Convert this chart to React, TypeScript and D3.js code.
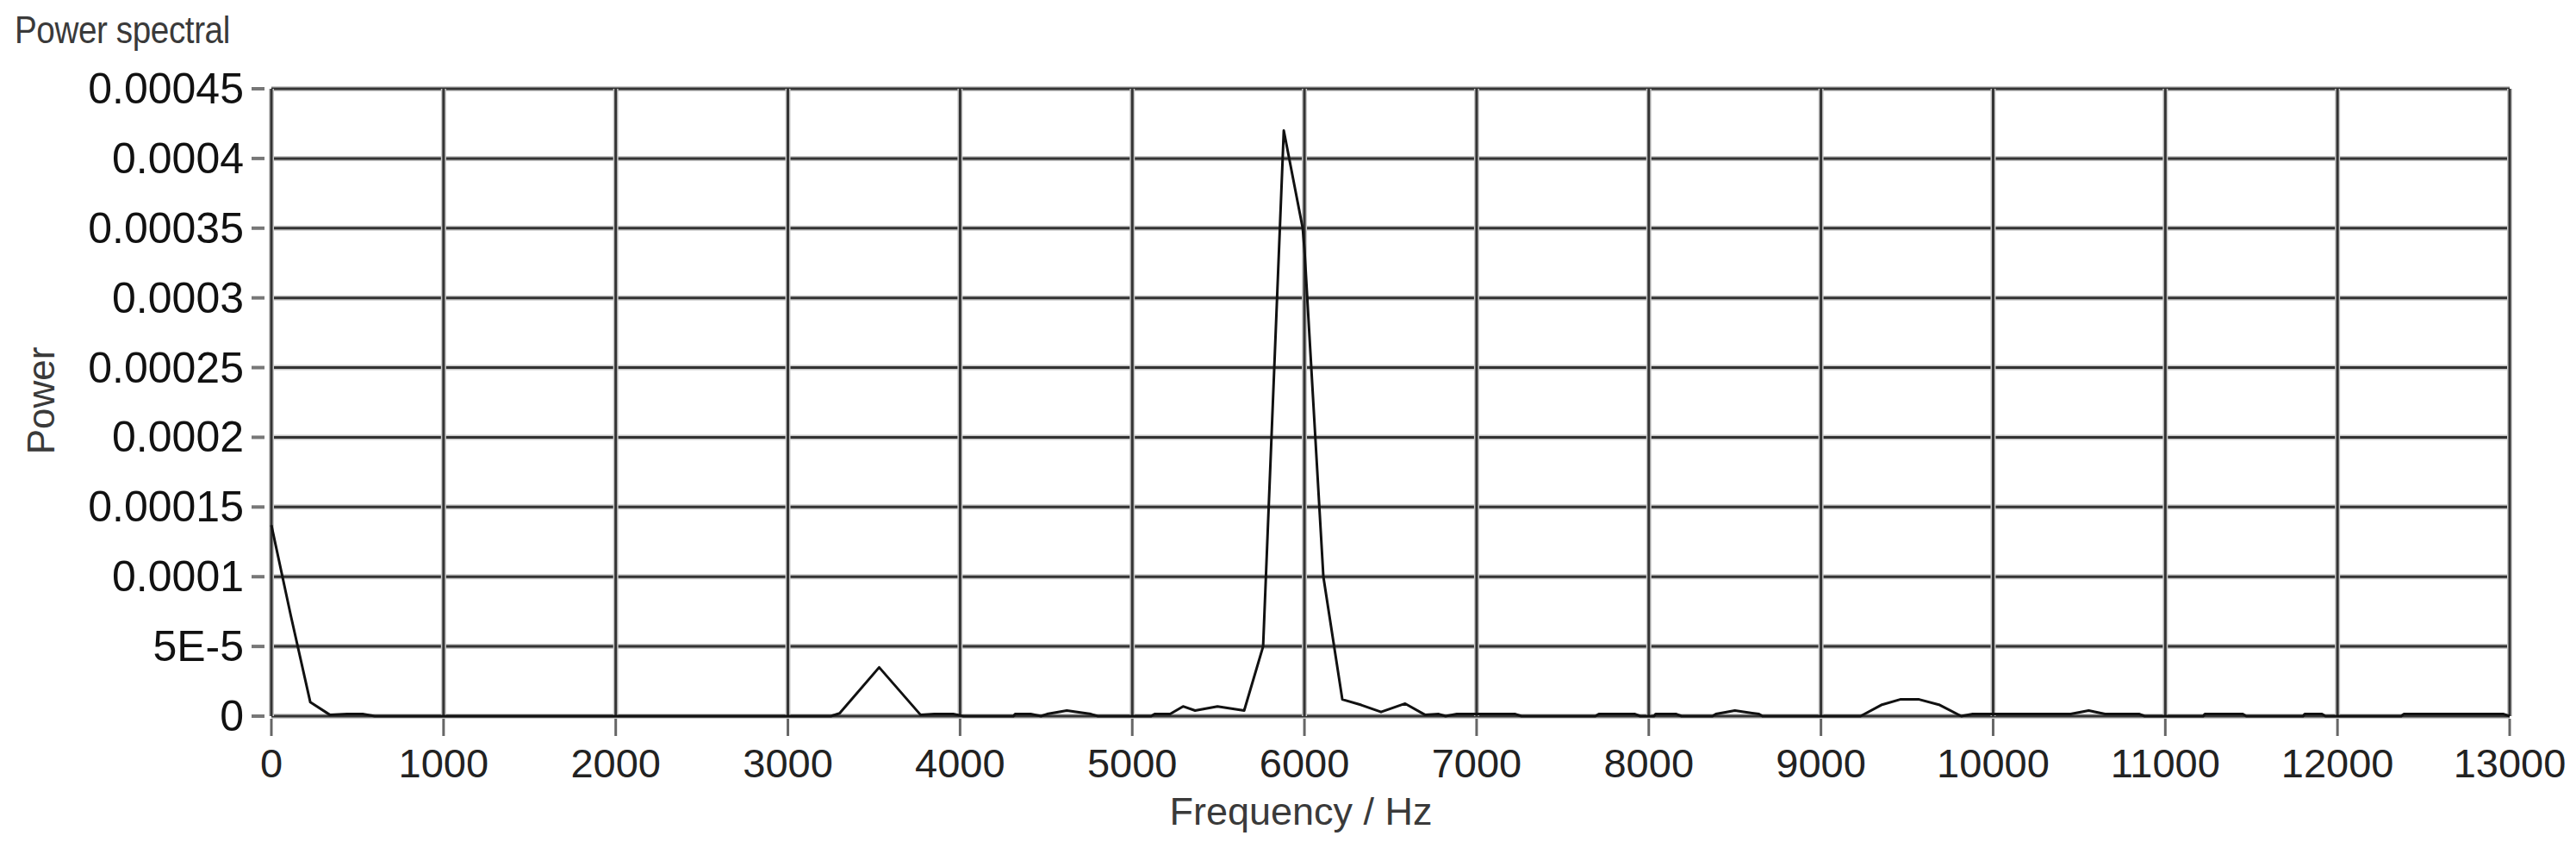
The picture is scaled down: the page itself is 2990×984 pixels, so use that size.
import React from "react";
import * as d3 from "d3";

// spectrum (Hz / power)
const freqHz = [
  0, 113, 226, 339, 440, 530, 600,
  3250, 3300, 3530, 3770, 3850, 3960, 4020,
  4310, 4320, 4410, 4470, 4505, 4620, 4760, 4800,
  5110, 5130, 5220, 5295, 5365, 5495, 5650, 5760, 5880, 5990, 6000, 6110, 6220,
  6330, 6445, 6585, 6700, 6780, 6820, 6885, 7225, 7260,
  7690, 7710, 7920, 7950, 8030, 8040, 8160, 8190,
  8370, 8390, 8500, 8640, 8660,
  9230, 9350, 9460, 9570, 9690, 9815, 9880, 10450, 10555, 10650, 10850, 10880,
  11220, 11230, 11450, 11470, 11800, 11810, 11910, 11930,
  12370, 12385, 12965, 13000,
];
const power = [
  1.37e-4, 7.2e-5, 1.0e-5, 1.0e-6, 1.5e-6, 1.5e-6, 0,
  0, 2e-6, 3.5e-5, 1e-6, 1.5e-6, 1.5e-6, 0,
  0, 1.5e-6, 1.5e-6, 0, 1.5e-6, 4e-6, 1.5e-6, 0,
  0, 1.5e-6, 1.5e-6, 7e-6, 4e-6, 7e-6, 4e-6, 5e-5, 4.2e-4, 3.5e-4, 3.35e-4, 1.0e-4, 1.2e-5,
  8e-6, 3e-6, 9e-6, 1e-6, 1.5e-6, 0, 1.5e-6, 1.5e-6, 0,
  0, 1.5e-6, 1.5e-6, 0, 0, 1.5e-6, 1.5e-6, 0,
  0, 1.5e-6, 4e-6, 1.5e-6, 0,
  0, 8e-6, 1.2e-5, 1.2e-5, 8e-6, 0, 1.5e-6, 1.5e-6, 4e-6, 1.5e-6, 1.5e-6, 0,
  0, 1.5e-6, 1.5e-6, 0, 0, 1.5e-6, 1.5e-6, 0,
  0, 1.5e-6, 1.5e-6, 0,
];

const xTicks = [0, 1000, 2000, 3000, 4000, 5000, 6000, 7000, 8000, 9000, 10000, 11000, 12000, 13000];
const yTicks = [0, 5e-5, 1e-4, 1.5e-4, 2e-4, 2.5e-4, 3e-4, 3.5e-4, 4e-4, 4.5e-4];
const yTickLabels = ["0", "5E-5", "0.0001", "0.00015", "0.0002", "0.00025", "0.0003", "0.00035", "0.0004", "0.00045"];

const W = 2990;
const H = 984;
const plot = { left: 315, right: 2913, top: 103, bottom: 831 };
const font = "'Liberation Sans', Arial, sans-serif";

export default function App() {
  const x = d3.scaleLinear().domain([0, 13000]).range([plot.left, plot.right]);
  const y = d3.scaleLinear().domain([0, 4.5e-4]).range([plot.bottom, plot.top]);

  const pts: [number, number][] = freqHz.map((f, i) => [f, power[i]]);
  const line = d3.line<[number, number]>()
    .x(d => x(d[0]))
    .y(d => y(d[1]));

  return (
    <div style={{ position: "fixed", left: 0, top: 0, background: "#fff" }}>
      <svg width={W} height={H} style={{ display: "block" }}>
        <rect x={0} y={0} width={W} height={H} fill="#fff" />

        {/* title is a narrow face in the original, squeeze it a bit */}
        <text transform="translate(17,50) scale(0.86,1)" fontFamily={font} fontSize={45} letterSpacing={-0.5} fill="#3a3a3a">
          Power spectral
        </text>

        {/* grid */}
        {yTicks.map(t => (
          <g key={"gy" + t}>
            <line x1={plot.left} x2={plot.right} y1={y(t)} y2={y(t)} stroke="#c8c8c8" strokeWidth={6} />
            <line x1={plot.left} x2={plot.right} y1={y(t)} y2={y(t)} stroke="#333" strokeWidth={3} />
            <line x1={292} x2={307} y1={y(t)} y2={y(t)} stroke="#777" strokeWidth={4} />
          </g>
        ))}
        {xTicks.map(t => (
          <g key={"gx" + t}>
            <line x1={x(t)} x2={x(t)} y1={plot.top} y2={plot.bottom} stroke="#c8c8c8" strokeWidth={6} />
            <line x1={x(t)} x2={x(t)} y1={plot.top} y2={plot.bottom} stroke="#333" strokeWidth={3} />
            <line x1={x(t)} x2={x(t)} y1={plot.bottom + 3} y2={plot.bottom + 23} stroke="#666" strokeWidth={3} />
          </g>
        ))}

        {/* data */}
        <path d={line(pts) || ""} fill="none" stroke="#111" strokeWidth={3} strokeLinejoin="round" />

        {/* tick labels */}
        {yTicks.map((t, i) => (
          <text key={"ly" + t} x={283} y={y(t) + 17} textAnchor="end" fontFamily={font} fontSize={50} fill="#111">
            {yTickLabels[i]}
          </text>
        ))}
        {xTicks.map(t => (
          <text key={"lx" + t} x={x(t)} y={902} textAnchor="middle" fontFamily={font} fontSize={47} fill="#222">
            {t}
          </text>
        ))}

        <text x={1510} y={957} textAnchor="middle" fontFamily={font} fontSize={45} fill="#3a3a3a">Frequency / Hz</text>
        <text transform="translate(63,465) rotate(-90)" textAnchor="middle" fontFamily={font} fontSize={44} fill="#3a3a3a">Power</text>
      </svg>
    </div>
  );
}
